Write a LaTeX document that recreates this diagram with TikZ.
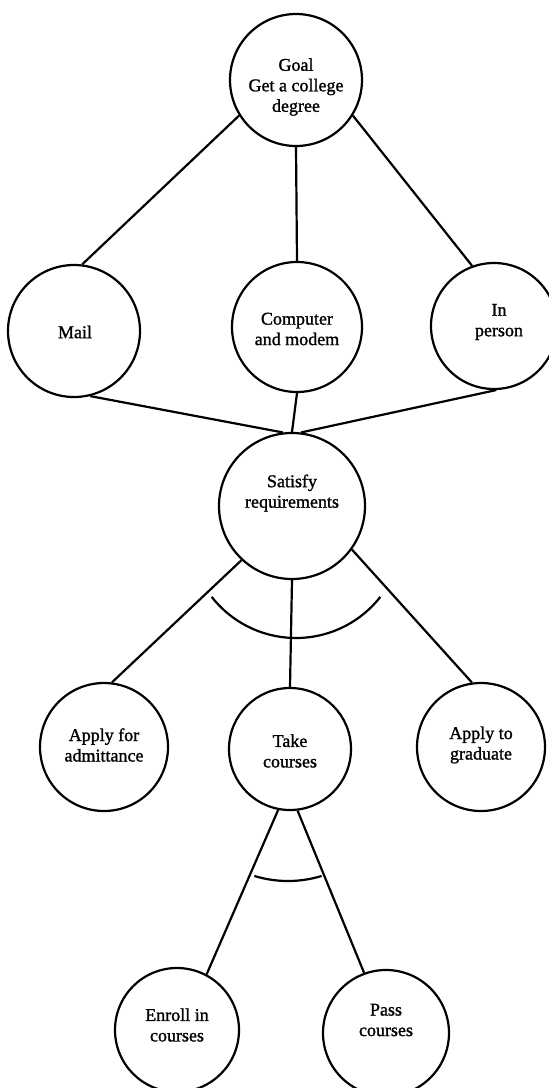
\documentclass[tikz,border=0pt]{standalone}
\usepackage{fontspec}
\setmainfont{Liberation Serif}[BoldFont={Liberation Serif}, BoldFeatures={FakeBold=1.3}]
\begin{document}
\begin{tikzpicture}[x=1pt,y=-1pt,
  bubble/.style={circle, draw, line width=2.2pt, inner sep=0pt},
  caption/.style={align=center, font=\fontsize{18}{20.5}\selectfont\bfseries, inner sep=0pt},
  link/.style={line width=2.2pt},
  andarc/.style={line width=2.2pt}]
\useasboundingbox (0,0) rectangle (549,1088);
\fill[white] (0,0) rectangle (549,1088);

% goal and the three ways of reaching it
\node[bubble, minimum size=132pt] (goal) at (296,80) {};
\node[bubble, minimum size=132pt] (mail) at (74,331) {};
\node[bubble, minimum size=130pt] (computer) at (297,327) {};
\node[bubble, minimum size=126pt] (inperson) at (494,326) {};

% requirements and their sub-goals
\node[bubble, minimum size=146pt] (satisfy) at (292,506) {};
\node[bubble, minimum size=128pt] (admit) at (104,747) {};
\node[bubble, minimum size=122pt] (take) at (290,749) {};
\node[bubble, minimum size=128pt] (grad) at (481,747) {};
\node[bubble, minimum size=124pt] (enroll) at (177,1030) {};
\node[bubble, minimum size=126pt] (pass) at (386,1033) {};

% texts
\node[caption] (goal-t) at (296,87) {Goal\\Get a college\\degree};
\node[caption] (mail-t) at (75,332) {Mail};
\node[caption] (computer-t) at (297,329) {Computer\\and modem};
\node[caption] (inperson-t) at (499,322) {In\\person};
\node[caption] (satisfy-t) at (292,493) {Satisfy\\requirements};
\node[caption] (admit-t) at (104,745) {Apply for\\admittance};
\node[caption] (take-t) at (290,751) {Take\\courses};
\node[caption] (grad-t) at (481,745) {Apply to\\graduate};
\node[caption] (enroll-t) at (177,1025) {Enroll in\\courses};
\node[caption] (pass-t) at (386,1020) {Pass\\courses};

% connectors
\draw[link] (goal.212) -- (mail.83);
\draw[link] (goal.south) -- (computer.north);
\draw[link] (goal.328) -- (inperson.110);
\draw[link] (mail.284) -- (satisfy.97);
\draw[link] (computer.south) -- (satisfy.north);
\draw[link] (inperson.272) -- (satisfy.83);
\draw[link] (satisfy.227) -- (admit.83);
\draw[link] (satisfy.south) -- (take.north);
\draw[link] (satisfy.324) -- (grad.98);
\draw[link] (take.259) -- (enroll.62);
\draw[link] (take.277) -- (pass.110);

% AND arcs
\coordinate (andA) at (296,531);
\draw[andarc] (andA) ++(38:107) arc[start angle=38, end angle=142, radius=107];
\coordinate (andB) at (288,766);
\draw[andarc] (andB) ++(73:115) arc[start angle=73, end angle=107, radius=115];
\end{tikzpicture}
\end{document}
